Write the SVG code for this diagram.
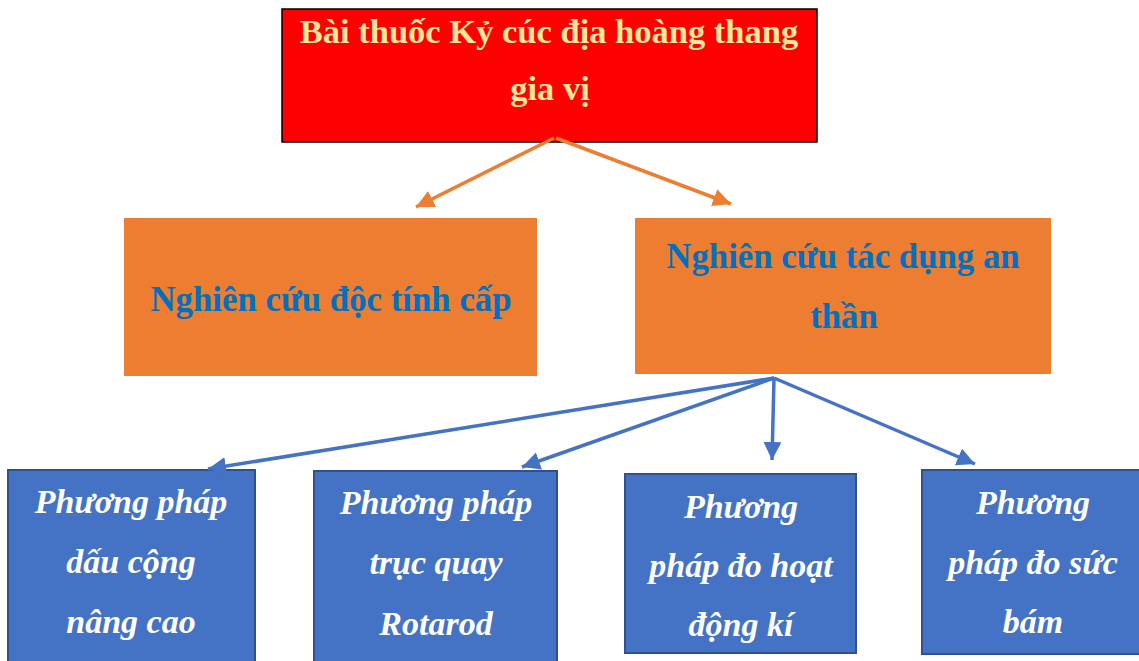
<svg xmlns="http://www.w3.org/2000/svg" width="1139" height="661" viewBox="0 0 1139 661">
<style>
.t{font-family:"Liberation Serif","Times New Roman",serif;font-weight:bold;font-size:34px;text-anchor:middle}
.top{fill:#FFE699;font-size:34.5px}
.mid{fill:#0070C0;font-size:34.8px}
.bl{fill:#FFFFFF;font-style:italic}
.bx{fill:#4472C4;stroke:#2F528F;stroke-width:2}
.or{fill:#ED7D31}
.ca{stroke:#ED7D31;stroke-width:3.5;fill:none}
.cb{stroke:#4472C4;stroke-width:3.5;fill:none}
</style>
<defs>
<marker id="ao" markerUnits="userSpaceOnUse" markerWidth="22" markerHeight="22" refX="18" refY="9" orient="auto"><path d="M0,0 L18,9 L0,18 Z" fill="#ED7D31"/></marker>
<marker id="ab" markerUnits="userSpaceOnUse" markerWidth="22" markerHeight="22" refX="18" refY="9" orient="auto"><path d="M0,0 L18,9 L0,18 Z" fill="#4472C4"/></marker>
</defs>
<rect width="1139" height="661" fill="#FFFFFF"/>
<g id="root">
<rect x="282" y="9" width="535" height="133" fill="#FF0000" stroke="#000000" stroke-width="1.5"/>
<text class="t top" x="549" y="43">Bài thuốc Kỷ cúc địa hoàng thang</text>
<text class="t top" x="550" y="100">gia vị</text>
</g>
<g id="doc-tinh">
<rect class="or" x="124" y="218" width="413" height="158"/>
<text class="t mid" x="331" y="311">Nghiên cứu độc tính cấp</text>
</g>
<g id="an-than">
<rect class="or" x="635" y="218" width="416" height="156"/>
<text class="t mid" x="843" y="268">Nghiên cứu tác dụng an</text>
<text class="t mid" x="844" y="328">thần</text>
</g>
<g id="dau-cong">
<rect class="bx" x="8" y="470" width="247" height="200"/>
<text class="t bl" x="131" y="513">Phương pháp</text>
<text class="t bl" x="131" y="573">dấu cộng</text>
<text class="t bl" x="131" y="633">nâng cao</text>
</g>
<g id="rotarod">
<rect class="bx" x="314" y="471" width="243" height="200"/>
<text class="t bl" x="436" y="514">Phương pháp</text>
<text class="t bl" x="436" y="574">trục quay</text>
<text class="t bl" x="436" y="635">Rotarod</text>
</g>
<g id="hoat-dong">
<rect class="bx" x="625" y="474" width="231" height="179"/>
<text class="t bl" x="741" y="518">Phương</text>
<text class="t bl" x="741" y="577">pháp đo hoạt</text>
<text class="t bl" x="741" y="636">động kí</text>
</g>
<g id="suc-bam">
<rect class="bx" x="922" y="470" width="222" height="184"/>
<text class="t bl" x="1033" y="514">Phương</text>
<text class="t bl" x="1033" y="574">pháp đo sức</text>
<text class="t bl" x="1033" y="633">bám</text>
</g>
<g id="connectors">
<line class="ca" x1="554" y1="138" x2="416" y2="207" marker-end="url(#ao)"/>
<line class="ca" x1="556" y1="138" x2="731" y2="204" marker-end="url(#ao)"/>
<line class="cb" x1="774" y1="378" x2="208" y2="469" marker-end="url(#ab)"/>
<line class="cb" x1="774" y1="378" x2="522" y2="467" marker-end="url(#ab)"/>
<line class="cb" x1="774" y1="378" x2="772" y2="460" marker-end="url(#ab)"/>
<line class="cb" x1="774" y1="378" x2="975" y2="464" marker-end="url(#ab)"/>
</g>
</svg>
